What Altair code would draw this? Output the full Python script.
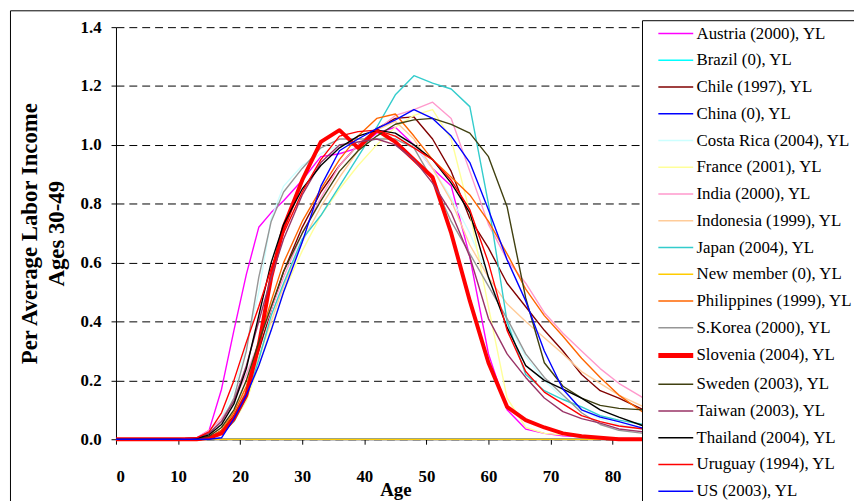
import altair as alt
import pandas as pd

ages = [0, 10, 13, 15, 17, 19, 21, 23, 25, 27, 30, 33, 36, 39, 42, 45, 48, 51, 54, 57, 60, 63, 66, 69, 72, 75, 78, 81, 85, 88]

countries = [
    "Austria (2000), YL", "Brazil (0), YL", "Chile (1997), YL", "China (0), YL",
    "Costa Rica (2004), YL", "France (2001), YL", "India (2000), YL",
    "Indonesia (1999), YL", "Japan (2004), YL", "New member (0), YL",
    "Philippines (1999), YL", "S.Korea (2000), YL", "Slovenia (2004), YL",
    "Sweden (2003), YL", "Taiwan (2003), YL", "Thailand (2004), YL",
    "Uruguay (1994), YL", "US (2003), YL",
]
colors = [
    "#FF00FF", "#00FFFF", "#800000", "#0000FF", "#CCFFFF", "#FFFF99", "#FF99CC",
    "#FFCC99", "#33CCCC", "#FFCC00", "#FF6600", "#969696", "#FF0000", "#404010",
    "#993366", "#000000", "#FF0000", "#0000FF",
]
widths = [1.4, 1.4, 1.4, 1.4, 1.4, 1.4, 1.4, 1.4, 1.4, 1.4, 1.4, 1.4, 4, 1.4, 1.4, 1.4, 1.4, 1.4]
draw_order = [1, 0, 2, 0, 3, 4, 5, 6, 7, 0, 8, 9, 20, 10, 11, 12, 13, 14]

austria = [0, 0, 0.005, 0.03, 0.17, 0.37, 0.56, 0.72, 0.77, 0.81, 0.88, 0.96, 0.97, 0.99, 1.04, 1.06, 1.00, 0.92, 0.86, 0.62, 0.29, 0.10, 0.035, 0.02, 0.012, 0.008, 0.005, 0.003, 0.002, 0.001]
brazil = [0] * 30
chile = [0, 0, 0, 0.005, 0.03, 0.08, 0.17, 0.30, 0.44, 0.57, 0.72, 0.84, 0.93, 1.00, 1.055, 1.09, 1.095, 1.02, 0.91, 0.75, 0.65, 0.53, 0.45, 0.37, 0.30, 0.22, 0.165, 0.14, 0.10, 0.08]
china = [0] * 30
costa_rica = [0, 0, 0.005, 0.02, 0.07, 0.17, 0.32, 0.50, 0.75, 0.86, 0.93, 0.97, 1.00, 1.00, 1.02, 1.03, 1.00, 0.92, 0.82, 0.70, 0.55, 0.40, 0.28, 0.20, 0.14, 0.10, 0.07, 0.05, 0.035, 0.03]
france = [0, 0, 0, 0.005, 0.02, 0.06, 0.13, 0.25, 0.38, 0.50, 0.64, 0.76, 0.85, 0.93, 1.00, 1.06, 1.10, 1.12, 1.02, 0.77, 0.45, 0.14, 0.04, 0.02, 0.015, 0.01, 0.005, 0.003, 0, 0]
india = [0, 0, 0.005, 0.03, 0.07, 0.13, 0.22, 0.33, 0.44, 0.55, 0.70, 0.82, 0.93, 1.00, 1.05, 1.10, 1.12, 1.145, 1.09, 0.91, 0.73, 0.61, 0.53, 0.43, 0.36, 0.30, 0.24, 0.19, 0.14, 0.12]
indonesia = [0, 0, 0, 0.01, 0.04, 0.09, 0.17, 0.28, 0.40, 0.52, 0.67, 0.79, 0.89, 0.98, 1.05, 1.08, 1.02, 0.92, 0.81, 0.66, 0.55, 0.46, 0.40, 0.345, 0.29, 0.23, 0.19, 0.15, 0.11, 0.10]
japan = [0, 0, 0, 0.005, 0.02, 0.06, 0.14, 0.27, 0.42, 0.53, 0.68, 0.76, 0.86, 0.96, 1.06, 1.17, 1.235, 1.21, 1.19, 1.13, 0.80, 0.40, 0.22, 0.165, 0.135, 0.11, 0.08, 0.065, 0.05, 0.045]
new_member = [0] * 30
philippines = [0, 0, 0, 0.005, 0.03, 0.09, 0.18, 0.33, 0.47, 0.60, 0.74, 0.85, 0.95, 1.03, 1.09, 1.105, 1.03, 0.95, 0.89, 0.83, 0.74, 0.63, 0.51, 0.42, 0.35, 0.275, 0.21, 0.15, 0.09, 0.07]
s_korea = [0, 0, 0.005, 0.02, 0.06, 0.14, 0.30, 0.55, 0.74, 0.84, 0.92, 0.99, 1.02, 1.02, 1.02, 1.02, 0.99, 0.88, 0.74, 0.63, 0.52, 0.41, 0.29, 0.21, 0.15, 0.09, 0.05, 0.03, 0.02, 0.015]
slovenia = [0, 0, 0, 0.005, 0.02, 0.07, 0.15, 0.32, 0.55, 0.72, 0.88, 1.01, 1.05, 0.99, 1.05, 1.01, 0.95, 0.89, 0.70, 0.47, 0.26, 0.11, 0.065, 0.04, 0.02, 0.01, 0.005, 0, 0, 0]
sweden = [0, 0, 0.003, 0.01, 0.04, 0.10, 0.20, 0.33, 0.45, 0.57, 0.70, 0.81, 0.91, 0.98, 1.03, 1.07, 1.085, 1.09, 1.07, 1.04, 0.96, 0.79, 0.48, 0.26, 0.18, 0.14, 0.115, 0.105, 0.10, 0.10]
taiwan = [0, 0, 0.005, 0.02, 0.06, 0.13, 0.25, 0.40, 0.55, 0.68, 0.83, 0.94, 1.00, 1.01, 1.02, 1.00, 0.95, 0.87, 0.77, 0.62, 0.41, 0.29, 0.21, 0.14, 0.094, 0.07, 0.055, 0.035, 0.025, 0.02]
thailand = [0, 0, 0.003, 0.015, 0.05, 0.12, 0.24, 0.42, 0.60, 0.73, 0.85, 0.93, 0.99, 1.03, 1.05, 1.04, 1.00, 0.95, 0.87, 0.77, 0.55, 0.38, 0.25, 0.20, 0.17, 0.14, 0.10, 0.075, 0.045, 0.035]
uruguay = [0, 0, 0.005, 0.025, 0.09, 0.20, 0.33, 0.45, 0.58, 0.70, 0.84, 0.95, 1.03, 1.045, 1.05, 1.03, 0.99, 0.95, 0.88, 0.78, 0.60, 0.37, 0.23, 0.16, 0.12, 0.08, 0.06, 0.045, 0.035, 0.03]
us = [0, 0, 0, 0, 0.005, 0.07, 0.15, 0.25, 0.37, 0.50, 0.67, 0.86, 0.98, 1.02, 1.055, 1.085, 1.12, 1.09, 1.03, 0.94, 0.78, 0.61, 0.47, 0.30, 0.17, 0.10, 0.075, 0.06, 0.037, 0.03]

series = [austria, brazil, chile, china, costa_rica, france, india, indonesia, japan,
          new_member, philippines, s_korea, slovenia, sweden, taiwan, thailand, uruguay, us]

y_ticks = [0, 0.2, 0.4, 0.6, 0.8, 1.0, 1.2, 1.4]
x_ticks = [0, 10, 20, 30, 40, 50, 60, 70, 80, 90]

rows = []
for c, vals, w, o in zip(countries, series, widths, draw_order):
    for a, v in zip(ages, vals):
        rows.append({"age": a, "value": v, "country": c, "ord": o, "w": w})
df = pd.DataFrame(rows)

SERIF = "Liberation Serif"

legend = alt.Legend(
    title=None, orient="none", legendX=546, legendY=-6,
    symbolType="M-1,0H2.2", symbolSize=484,
    symbolStrokeWidth=alt.ExprRef(expr="datum.value === 'Slovenia (2004), YL' ? 5 : 1.5"),
    labelFont=SERIF, labelFontSize=17, labelColor="black",
    labelOffset=19, rowPadding=9, padding=4, labelLimit=300, zindex=1,
)

lines = alt.Chart(df).mark_line(strokeCap="butt", strokeJoin="round").encode(
    x=alt.X("age:Q", scale=alt.Scale(domain=[0, 90], nice=False),
            axis=alt.Axis(values=x_ticks, title="Age", grid=False, tickSize=5,
                          labelFont=SERIF, labelFontWeight="bold", labelFontSize=17,
                          titleFont=SERIF, titleFontWeight="bold", titleFontSize=19,
                          labelPadding=25, titleBaseline="alphabetic", titleY=57)),
    y=alt.Y("value:Q", scale=alt.Scale(domain=[0, 1.4], nice=False),
            axis=alt.Axis(values=y_ticks, format=".1f", grid=True, gridDash=[8, 5],
                          gridColor="black", gridWidth=1, tickSize=5, labelPadding=10,
                          labelFont=SERIF, labelFontWeight="bold", labelFontSize=17,
                          titleFont=SERIF, titleFontWeight="bold", titleFontSize=23,
                          title=["Per Average Labor Income", "Ages 30-49"],
                          titleLineHeight=27, titlePadding=12)),
    color=alt.Color("country:N", scale=alt.Scale(domain=countries, range=colors),
                    legend=legend),
    strokeWidth=alt.StrokeWidth("w:Q", scale=None),
    order=alt.Order("ord:Q"),
)

box_data = pd.DataFrame({"k": [0]})
legend_box = alt.Chart(box_data).mark_rect(fill="white", stroke="black", strokeWidth=1).encode(
    x=alt.value(531.5), x2=alt.value(1000), y=alt.value(-6.5), y2=alt.value(700)
)
frame = alt.Chart(box_data).mark_rect(fill="transparent", stroke="black", strokeWidth=1).encode(
    x=alt.value(-106.5), x2=alt.value(1000), y=alt.value(-16.5), y2=alt.value(700)
)

chart = alt.layer(lines, legend_box, frame).properties(
    width=564, height=416,
    autosize=alt.AutoSizeParams(type="none"),
    padding={"left": 109, "top": 17, "right": 181, "bottom": 60},
).configure_view(strokeWidth=0).configure_axis(
    domainColor="black", tickColor="black", labelColor="black", titleColor="black",
).configure_legend(labelFont=SERIF, labelFontSize=17)

chart.save("out.html", embed_options={"renderer": "svg", "actions": False})
